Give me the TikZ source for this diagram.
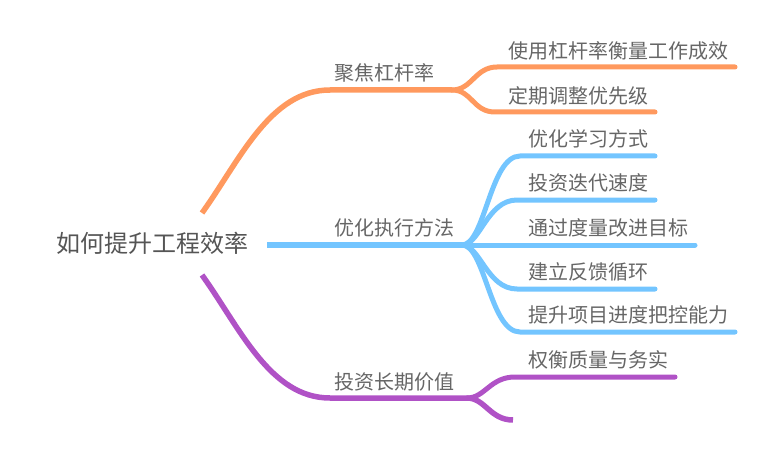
\documentclass[tikz,border=0pt]{standalone}
\usepackage{fontspec}
\setmainfont{Noto Sans CJK SC}
\definecolor{brOrange}{RGB}{255,153,94}
\definecolor{brBlue}{RGB}{115,197,255}
\definecolor{brPurple}{RGB}{176,82,198}
\definecolor{txtRoot}{RGB}{85,85,85}
\definecolor{txtGray}{RGB}{102,102,102}
\begin{document}
\begin{tikzpicture}[x=1pt,y=-1pt,
  rootlabel/.style={inner sep=0pt,anchor=base west,text=txtRoot,font=\fontsize{24}{28}\selectfont},
  label/.style={inner sep=0pt,anchor=base west,text=txtGray,font=\fontsize{20}{24}\selectfont},
  mainline/.style={line width=5.5pt,line cap=butt},
  childline/.style={line width=5pt,line cap=round},
]
\useasboundingbox (0,0) rectangle (770,457);
% root
\node[rootlabel] (root) at (56,252) {如何提升工程效率};
% coordinates
\coordinate (oS) at (202,213);
\coordinate (oF) at (452,90);
\coordinate (o1) at (735,67);
\coordinate (o2) at (655,112);
\coordinate (bS) at (267,245);
\coordinate (bF) at (462,245);
\coordinate (b1) at (655,156);
\coordinate (b2) at (655,200);
\coordinate (b3) at (695,245);
\coordinate (b4) at (655,289);
\coordinate (b5) at (735,332);
\coordinate (pS) at (202,275);
\coordinate (pF) at (467,398);
\coordinate (p1) at (675,377);
\coordinate (p2) at (513,420);
% orange branch
\draw[brOrange,mainline] (oS) .. controls (240,160) and (270,90) .. (330,90) -- (oF);
\draw[brOrange,childline] (oF) .. controls (472,90) and (475,67) .. (497,67) -- (o1);
\draw[brOrange,childline] (oF) .. controls (472,90) and (473,112) .. (495,112) -- (o2);
\node[label] (n1) at (334,81) {聚焦杠杆率};
\node[label] (n11) at (508,58.5) {使用杠杆率衡量工作成效};
\node[label] (n12) at (508,103.5) {定期调整优先级};
% blue branch
\draw[brBlue,mainline] (bS) -- (bF);
\draw[brBlue,childline] (bF) .. controls (485,245) and (490,156) .. (520,156) -- (b1);
\draw[brBlue,childline] (bF) .. controls (480,245) and (487,200) .. (517,200) -- (b2);
\draw[brBlue,childline] (bF) -- (b3);
\draw[brBlue,childline] (bF) .. controls (480,245) and (487,289) .. (517,289) -- (b4);
\draw[brBlue,childline] (bF) .. controls (485,245) and (490,332) .. (520,332) -- (b5);
\node[label] (n2) at (334,235) {优化执行方法};
\node[label] (n21) at (528,146.5) {优化学习方式};
\node[label] (n22) at (528,190.5) {投资迭代速度};
\node[label] (n23) at (528,235) {通过度量改进目标};
\node[label] (n24) at (528,279.5) {建立反馈循环};
\node[label] (n25) at (528,322.5) {提升项目进度把控能力};
% purple branch
\draw[brPurple,mainline] (pS) .. controls (240,328) and (270,398) .. (330,398) -- (pF);
\draw[brPurple,childline] (pF) .. controls (485,398) and (490,377) .. (515,377) -- (p1);
\draw[brPurple,mainline] (pF) .. controls (485,398) and (490,420) .. (p2);
\node[label] (n3) at (334,389.5) {投资长期价值};
\node[label] (n31) at (528,367) {权衡质量与务实};
\end{tikzpicture}
\end{document}
